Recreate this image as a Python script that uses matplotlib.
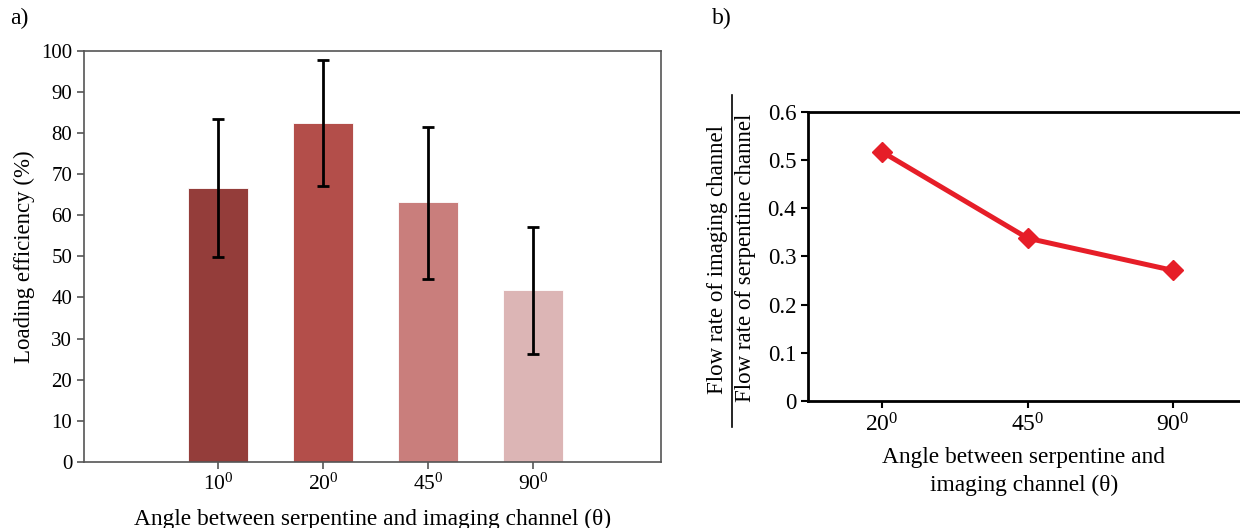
import numpy as np
import matplotlib
matplotlib.use("Agg")
import matplotlib.pyplot as plt
from matplotlib.lines import Line2D

#- Datos -#
angulos_a = ["10", "20", "45", "90"]
eficiencia = [66.5, 82.3, 63.2, 41.8]
err_inf = [16.6, 15.3, 18.7, 15.5]
err_sup = [17.0, 15.5, 18.3, 15.4]
colores = ["#943d3a", "#b34e4a", "#c97e7c", "#dcb5b5"]

angulos_b = ["20", "45", "90"]
razon_flujo = [0.517, 0.338, 0.271]

plt.rcParams['font.family'] = ['Liberation Serif', 'DejaVu Serif']
plt.rcParams['mathtext.fontset'] = 'custom'
plt.rcParams['mathtext.rm'] = 'Liberation Serif'
plt.rcParams['mathtext.it'] = 'Liberation Serif:italic'

fig = plt.figure(figsize=(12.4, 5.28), dpi=100)

#- Panel a -#
ax1 = fig.add_axes([0.0677, 0.125, 0.4653, 0.779])
x = np.arange(len(angulos_a))
ax1.bar(x, eficiencia, width=0.57, color=colores, edgecolor='white', linewidth=0.6)
ax1.errorbar(x, eficiencia, yerr=[err_inf, err_sup], fmt='none', ecolor='black',
             elinewidth=2, capsize=4, capthick=2)
ax1.set_xlim(-1.28, 4.22)
ax1.set_ylim(0, 100)
ax1.set_yticks(np.arange(0, 101, 10))
ax1.set_xticks(x)
ax1.set_xticklabels([a + r"$^{0}$" for a in angulos_a])
for s in ax1.spines.values():
    s.set_color('#555555')
    s.set_linewidth(1.2)
ax1.tick_params(axis='y', labelsize=15, length=5, width=1.2, color='#555555')
ax1.tick_params(axis='x', labelsize=15.5, length=5, width=1.2, color='#555555')
ax1.set_ylabel("Loading efficiency (%)", fontsize=16.5)
ax1.set_xlabel("Angle between serpentine and imaging channel (\u03b8)", fontsize=16.8)
ax1.xaxis.label.set_va('center')
ax1.xaxis.set_label_coords(0.5, -0.14)
fig.text(0.008, 0.955, "a)", fontsize=17)

#- Panel b -#
ax2 = fig.add_axes([0.6516, 0.2405, 0.3484, 0.5475])
xb = np.arange(len(angulos_b))
ax2.plot(xb, razon_flujo, color='#e61e28', linewidth=3.6, marker='D', markersize=10)
ax2.set_xlim(-0.51, 2.46)
ax2.set_ylim(0, 0.6)
ax2.set_yticks(np.arange(0, 0.61, 0.1))
ax2.set_yticklabels(["0", "0.1", "0.2", "0.3", "0.4", "0.5", "0.6"])
ax2.set_xticks(xb)
ax2.set_xticklabels([a + r"$^{0}$" for a in angulos_b])
ax2.spines['right'].set_visible(False)
for s in ['left', 'top', 'bottom']:
    ax2.spines[s].set_linewidth(2)
ax2.tick_params(axis='y', labelsize=16.5, length=5, width=1.5)
ax2.tick_params(axis='x', labelsize=17, length=5, width=1.5)
ax2.set_xlabel("Angle between serpentine and\nimaging channel (\u03b8)", fontsize=16.8,
               linespacing=1.4)
ax2.xaxis.label.set_va('center')
ax2.xaxis.set_label_coords(0.5, -0.243)
fig.text(0.574, 0.955, "b)", fontsize=17)

# etiqueta en forma de fraccion
fig.text(717 / 1240, 1 - 260 / 528, "Flow rate of imaging channel", rotation=90,
         ha='center', va='center', fontsize=16.5)
fig.text(745 / 1240, 1 - 258 / 528, "Flow rate of serpentine channel", rotation=90,
         ha='center', va='center', fontsize=16.5)
fig.add_artist(Line2D([732 / 1240, 732 / 1240], [1 - 95 / 528, 1 - 427 / 528],
                      color='black', linewidth=1.2, transform=fig.transFigure))

fig.savefig("out.png", dpi=100)
